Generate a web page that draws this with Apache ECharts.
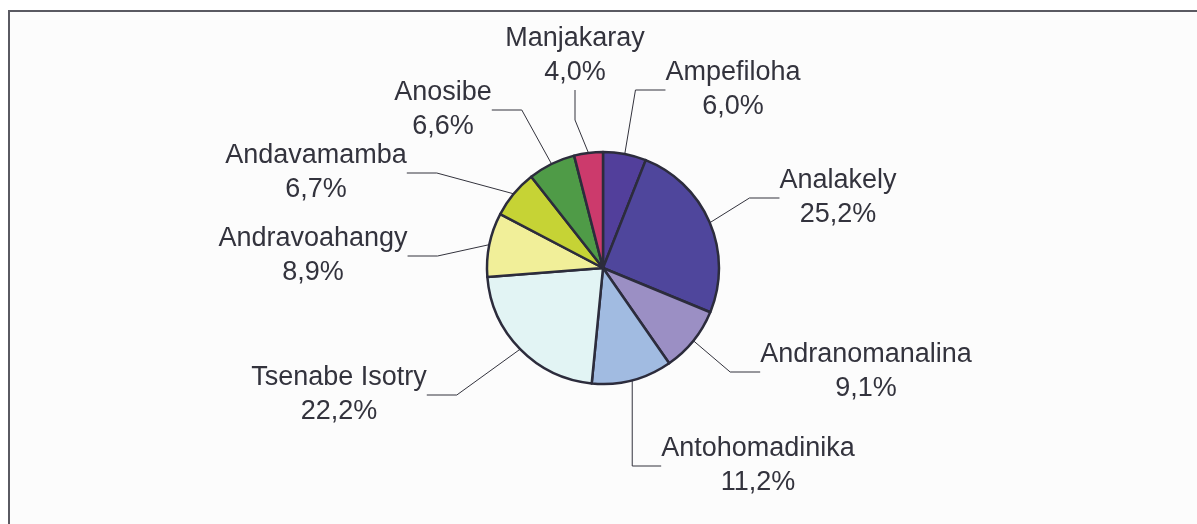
<!DOCTYPE html>
<html>
<head>
    <meta charset="utf-8" />
    <title>Pie</title>
    <style>
        html, body { margin: 0; padding: 0; background: #ffffff; }
        #main { width: 1197px; height: 524px; }
    </style>
</head>
<body>
<div id="main"></div>
<script src="https://cdn.jsdelivr.net/npm/echarts@6/dist/echarts.min.js"></script>
<script>
    // slices, clockwise from 12 o'clock
    var names = ['Ampefiloha', 'Analakely', 'Andranomanalina', 'Antohomadinika', 'Tsenabe Isotry',
                 'Andravoahangy', 'Andavamamba', 'Anosibe', 'Manjakaray'];
    var shares = [6.0, 25.2, 9.1, 11.2, 22.2, 8.9, 6.7, 6.6, 4.0];
    var colors = ['#523f9b', '#4f469c', '#9b8fc4', '#a1bbe1', '#e2f4f4',
                  '#f1ef99', '#c6d335', '#4f9b47', '#cc3a6c'];
    // where each label block sits (centre of the two lines)
    var labelPos = [[733, 90], [838, 198], [866, 372], [758, 466], [339, 395],
                    [313, 256], [316, 173], [443, 110], [575, 56]];

    var chart = echarts.init(document.getElementById('main'));

    var data = names.map(function (n, i) {
        return { name: n, value: shares[i], itemStyle: { color: colors[i] } };
    });

    chart.setOption({
        animation: false,
        backgroundColor: '#ffffff',
        graphic: [{
            type: 'rect',
            shape: { x: 9, y: 11, width: 1250, height: 600 },
            style: { fill: '#fcfcfc', stroke: '#5a5a62', lineWidth: 2 }
        }],
        series: [{
            type: 'pie',
            center: [603, 268],
            radius: 116,
            startAngle: 90,
            clockwise: true,
            data: data,
            itemStyle: { borderColor: '#2c2c3c', borderWidth: 2.5 },
            label: {
                show: true,
                formatter: function (p) {
                    return p.name + '\n' + p.value.toFixed(1).replace('.', ',') + '%';
                },
                fontFamily: 'Liberation Sans, Arial, sans-serif',
                fontSize: 27,
                lineHeight: 34,
                color: '#33333d',
                align: 'center'
            },
            labelLine: {
                show: true,
                lineStyle: { color: '#33333d', width: 1 }
            },
            labelLayout: function (params) {
                var p = labelPos[params.dataIndex];
                return { x: p[0], y: p[1], align: 'center', verticalAlign: 'middle' };
            }
        }]
    });
</script>
</body>
</html>
